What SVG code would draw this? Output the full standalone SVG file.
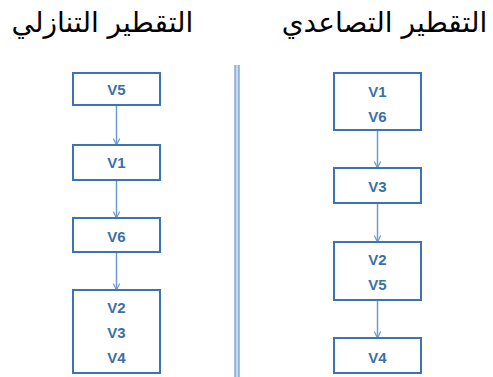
<svg xmlns="http://www.w3.org/2000/svg" width="493" height="377" viewBox="0 0 493 377">
  <style>
    .title { font-family: "DejaVu Sans", "Noto Sans", sans-serif; font-size: 28px; fill: #000; }
    .box rect { fill: #fff; stroke: #3c73b3; stroke-width: 2; }
    .box text { font-family: "Liberation Sans", Arial, sans-serif; font-size: 15px; font-weight: bold; fill: #3b6fa8; text-anchor: middle; }
    .edge { stroke: #6c9bcf; stroke-width: 1.5; fill: none; marker-end: url(#arrow); }
  </style>
  <defs>
    <marker id="arrow" viewBox="0 0 10 10" refX="9" refY="5" markerWidth="8" markerHeight="8" markerUnits="userSpaceOnUse" orient="auto">
      <path d="M1,1 L9,5 L1,9" fill="none" stroke="#6c9bcf" stroke-width="1.5"/>
    </marker>
  </defs>

  <rect width="493" height="377" fill="#fff"/>

  <!-- column headings -->
  <text class="title" x="102.5" y="32" text-anchor="middle" direction="rtl">التقطير التنازلي</text>
  <text class="title" x="384.5" y="32" text-anchor="middle" direction="rtl">التقطير التصاعدي</text>

  <!-- double divider -->
  <g id="divider">
    <rect x="234" y="65" width="6" height="312" fill="#c9dbef"/>
    <line x1="235.2" y1="65" x2="235.2" y2="377" stroke="#8db1da" stroke-width="1.6"/>
    <line x1="238.8" y1="65" x2="238.8" y2="377" stroke="#8db1da" stroke-width="1.6"/>
  </g>

  <!-- connectors -->
  <g id="connectors">
    <line class="edge" x1="116.5" y1="105" x2="116.5" y2="145"/>
    <line class="edge" x1="116.5" y1="180" x2="116.5" y2="218"/>
    <line class="edge" x1="116.5" y1="252" x2="116.5" y2="290"/>
    <line class="edge" x1="377.5" y1="130" x2="377.5" y2="168"/>
    <line class="edge" x1="377.5" y1="203" x2="377.5" y2="242"/>
    <line class="edge" x1="377.5" y1="300" x2="377.5" y2="338"/>
  </g>

  <!-- top-down column -->
  <g id="node-v5" class="box">
    <rect x="73" y="73" width="87" height="32"/>
    <text x="116.5" y="95">V5</text>
  </g>
  <g id="node-v1" class="box">
    <rect x="73" y="145" width="87" height="35"/>
    <text x="116.5" y="168">V1</text>
  </g>
  <g id="node-v6" class="box">
    <rect x="73" y="218" width="87" height="34"/>
    <text x="116.5" y="242">V6</text>
  </g>
  <g id="node-v2-v3-v4" class="box">
    <rect x="73" y="290" width="87" height="83"/>
    <text x="116.5" y="313">V2</text>
    <text x="116.5" y="338">V3</text>
    <text x="116.5" y="363">V4</text>
  </g>

  <!-- bottom-up column -->
  <g id="node-v1-v6" class="box">
    <rect x="334" y="73" width="87" height="57"/>
    <text x="377.5" y="97">V1</text>
    <text x="377.5" y="122">V6</text>
  </g>
  <g id="node-v3" class="box">
    <rect x="334" y="168" width="87" height="35"/>
    <text x="377.5" y="192">V3</text>
  </g>
  <g id="node-v2-v5" class="box">
    <rect x="334" y="242" width="87" height="58"/>
    <text x="377.5" y="265">V2</text>
    <text x="377.5" y="290">V5</text>
  </g>
  <g id="node-v4" class="box">
    <rect x="334" y="338" width="87" height="35"/>
    <text x="377.5" y="363">V4</text>
  </g>
</svg>
